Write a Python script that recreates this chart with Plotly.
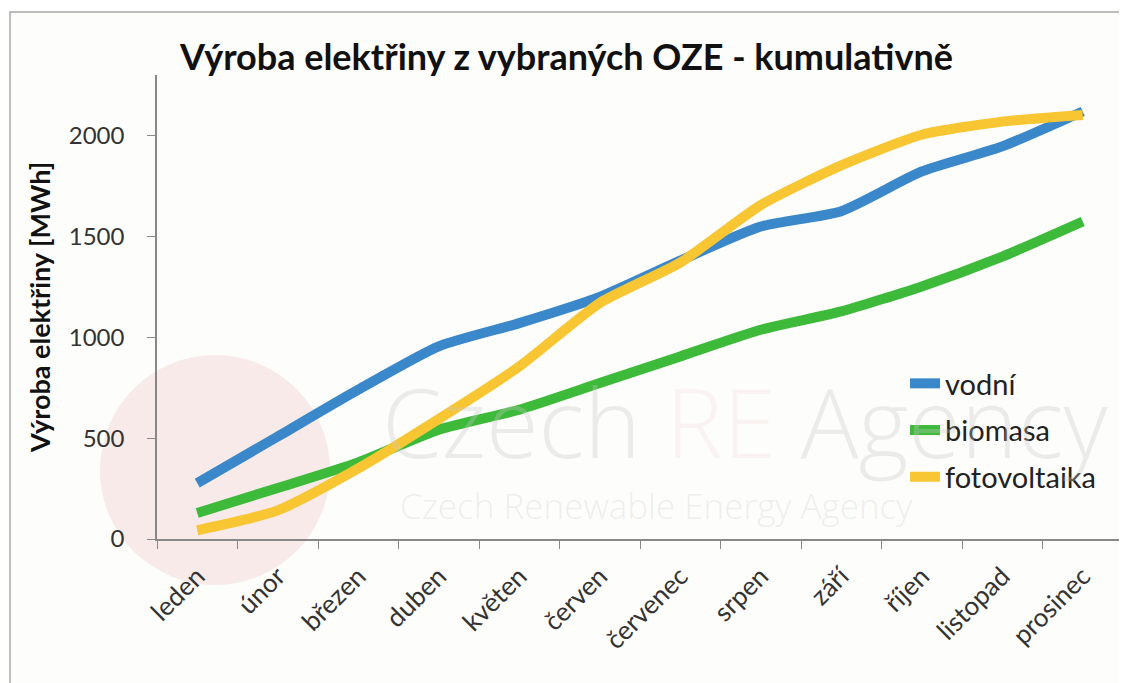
import plotly.graph_objects as go

months = ["leden", "únor", "březen", "duben", "květen", "červen", "červenec",
          "srpen", "září", "říjen", "listopad", "prosinec"]
vodni = [277, 508, 740, 955, 1070, 1200, 1380, 1549, 1625, 1822, 1946, 2119]
biomasa = [129, 253, 380, 542, 641, 773, 905, 1037, 1128, 1252, 1400, 1574]
fotovoltaika = [43, 142, 350, 595, 855, 1170, 1370, 1655, 1852, 2004, 2069, 2102]

series = [("vodní", vodni, "#3a88c9"),
          ("biomasa", biomasa, "#3dba3a"),
          ("fotovoltaika", fotovoltaika, "#f8c633")]

OFF = 8  # page body margin
W, H = 1127 - OFF, 683 - OFF
L, R, T, B = 157 - OFF, 4, 75 - OFF, 144
pw, ph = W - L - R, H - T - B

def px(x):
    return (x - OFF - L) / pw

def py(y):
    return (H - B - (y - OFF)) / ph

fig = go.Figure()
for name, vals, col in series:
    fig.add_trace(go.Scatter(x=months, y=vals, name=name, mode="lines",
                             line=dict(color=col, width=10, shape="spline", smoothing=0.6),
                             legendgroup=name))

font_main = "Lato"

shapes = [
    dict(type="rect", xref="paper", yref="paper", x0=px(10), x1=px(1150), y0=py(12), y1=py(720),
         line=dict(color="#a8a8a8", width=1.5), fillcolor="#fdfdfb", layer="below"),
    dict(type="circle", xref="paper", yref="paper", x0=px(100), x1=px(330), y0=py(585), y1=py(355),
         line=dict(width=0), fillcolor="rgba(230,170,170,0.22)", layer="below"),
]

annotations = [
    dict(text="Czech <span style='color:rgba(235,180,180,0.40)'>RE</span> Agency", xref="paper", yref="paper",
         x=px(380), y=py(420), xanchor="left", yanchor="middle", showarrow=False,
         font=dict(family="Open Sans", size=96, color="rgba(200,200,200,0.32)", weight=300)),
    dict(text="Czech Renewable Energy Agency", xref="paper", yref="paper",
         x=px(398), y=py(505), xanchor="left", yanchor="middle", showarrow=False,
         font=dict(family="Open Sans", size=35, color="rgba(200,200,200,0.28)", weight=300)),
]

fig.update_layout(
    width=W, height=H,
    margin=dict(l=L, r=R, t=T, b=B),
    paper_bgcolor="white",
    plot_bgcolor="rgba(0,0,0,0)",
    title=dict(text="<b>Výroba elektřiny z vybraných OZE - kumulativně</b>",
               xref="container", yref="container", x=(180 - OFF) / W, xanchor="left",
               y=1 - (57 - OFF) / H, yanchor="middle",
               font=dict(family=font_main, size=36, color="#111111")),
    xaxis=dict(type="category", range=[-0.5, 11.5], tickson="boundaries",
               ticks="outside", ticklen=8, tickcolor="#888888",
               showline=True, linecolor="#888888", linewidth=1.5,
               showgrid=False, tickangle=-45, ticklabelstandoff=10,
               tickfont=dict(family=font_main, size=26, color="#333333")),
    yaxis=dict(range=[0, 2300], tickvals=[0, 500, 1000, 1500, 2000],
               ticks="outside", ticklen=8, tickcolor="#888888",
               showline=True, linecolor="#888888", linewidth=1.5,
               showgrid=False, zeroline=False, ticklabelstandoff=18,
               tickfont=dict(family=font_main, size=24, color="#333333"),
               title=dict(text="<b>Výroba elektřiny [MWh]</b>", standoff=10,
                          font=dict(family=font_main, size=27, color="#111111"))),
    legend=dict(x=px(905), y=py(358), xref="paper", yref="paper", xanchor="left", yanchor="top",
                bgcolor="rgba(0,0,0,0)", tracegroupgap=6,
                font=dict(family=font_main, size=29, color="#222222")),
    shapes=shapes,
    annotations=annotations,
)

fig.write_html("out.html")
